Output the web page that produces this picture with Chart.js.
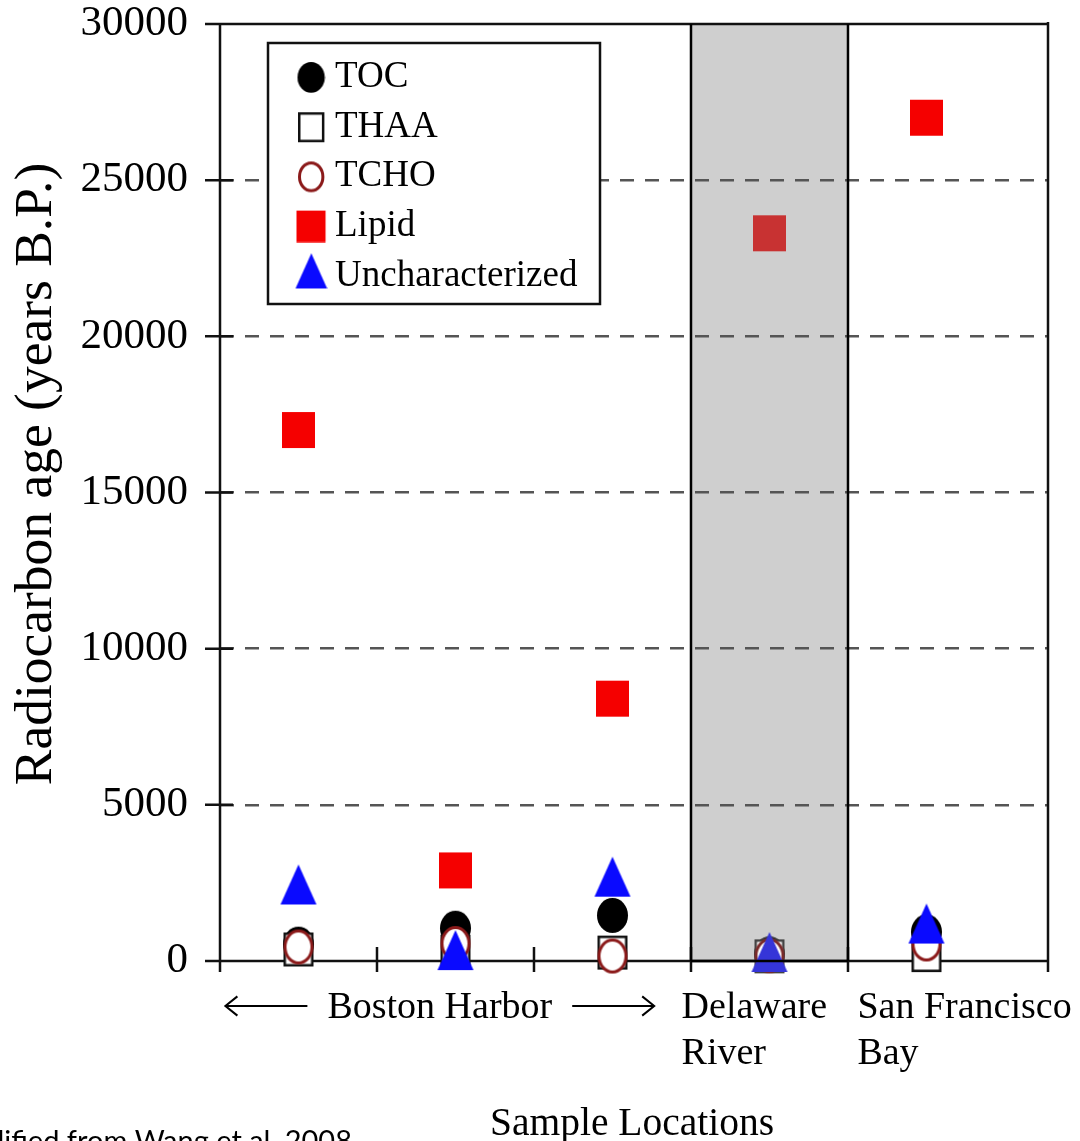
<!DOCTYPE html>
<html><head><meta charset="utf-8">
<script src="https://cdn.jsdelivr.net/npm/chart.js@4/dist/chart.umd.min.js"></script>
<style>html,body{margin:0;padding:0;background:#fff;}</style>
</head><body>
<canvas id="c" width="1080" height="1141"></canvas>
<script>
// ---------- data ----------
const locationIndex = [1, 2, 3, 4, 5];
const locationNames = ['Boston Harbor A', 'Boston Harbor B', 'Boston Harbor C', 'Delaware River', 'San Francisco Bay'];
const seriesNames = ['TOC', 'THAA', 'TCHO', 'Lipid', 'Uncharacterized'];
const tocAge   = [540, 1050, 1460, 230, 930];
const thaaAge  = [370, 300, 270, 150, 190];
const tchoAge  = [450, 560, 160, 170, 545];
const lipidAge = [17000, 2900, 8400, 23300, 27000];
const unchAge  = [2450, 350, 2700, 290, 1200];
const yTickValues = [0, 5000, 10000, 15000, 20000, 25000, 30000];
const regionLabels = [['Boston Harbor'], ['Delaware', 'River'], ['San Francisco', 'Bay']];
const yTitle = 'Radiocarbon age (years B.P.)';
const xTitle = 'Sample Locations';
const footnote = 'Modified from Wang et al. 2008';

// ---------- marker images ----------
function marker(kind, w, h, fill, stroke, lw) {
  lw = lw || 0;
  const pad = Math.ceil(lw) + 1;
  const c = document.createElement('canvas');
  c.width = w + 2 * pad; c.height = h + 2 * pad;
  const g = c.getContext('2d');
  g.translate(pad, pad);
  g.beginPath();
  if (kind === 'circle') g.ellipse(w / 2, h / 2, w / 2 - lw / 2, h / 2 - lw / 2, 0, 0, Math.PI * 2);
  else if (kind === 'rect') g.rect(lw / 2, lw / 2, w - lw, h - lw);
  else { g.moveTo(w / 2, 0); g.lineTo(w, h); g.lineTo(0, h); g.closePath(); }
  if (fill) { g.fillStyle = fill; g.fill(); }
  if (stroke) { g.lineWidth = lw; g.strokeStyle = stroke; g.stroke(); }
  return c;
}
const SERIF = '"Liberation Serif", "Times New Roman", serif';
const styles = {
  TOC:   (d, s) => marker('circle', 31 * s, 35 * s, d ? '#333' : '#000'),
  THAA:  (d, s) => marker('rect', 30 * s, 34 * s, '#fff', d ? '#444' : '#111', 2.5),
  TCHO:  (d, s) => marker('circle', 30 * s, 35 * s, '#fff', d ? '#7a2a2a' : '#8b1a1a', 3),
  Lipid: (d, s) => marker('rect', 33 * s, 36 * s, d ? '#c83232' : '#f50000'),
  Uncharacterized: (d, s) => marker('tri', 36 * s, 40 * s, d ? '#3535d8' : '#0a0aff')
};
const DELAWARE = 3; // index of shaded location
const valuesBySeries = [tocAge, thaaAge, tchoAge, lipidAge, unchAge];

const datasets = seriesNames.map((name, si) => ({
  label: name,
  data: locationIndex.map((x, i) => ({ x, y: valuesBySeries[si][i] })),
  pointStyle: locationIndex.map((x, i) => styles[name](i === DELAWARE, 1)),
  pointRadius: 16,
  order: seriesNames.length - si,
  clip: false,
  showLine: false
}));

// ---------- custom drawing plugin ----------
const overlay = {
  id: 'overlay',
  beforeDraw(chart) {
    const { ctx, chartArea: a, scales: { x } } = chart;
    ctx.save();
    ctx.fillStyle = '#fff';
    ctx.fillRect(0, 0, chart.width, chart.height);
    const x0 = x.getPixelForValue(3.5), x1 = x.getPixelForValue(4.5);
    ctx.fillStyle = '#cfcfcf';
    ctx.fillRect(x0, a.top, x1 - x0, a.bottom - a.top);
    ctx.restore();
  },
  beforeDatasetsDraw(chart) {
    const { ctx, chartArea: a, scales: { x, y } } = chart;
    ctx.save();
    ctx.strokeStyle = '#111';
    ctx.lineWidth = 2.5;
    ctx.beginPath();
    ctx.moveTo(a.left - 15, a.top); ctx.lineTo(a.right, a.top);
    ctx.moveTo(a.left - 15, a.bottom); ctx.lineTo(a.right, a.bottom);
    ctx.moveTo(a.left, a.top); ctx.lineTo(a.left, a.bottom + 11);
    ctx.moveTo(a.right, a.top - 2); ctx.lineTo(a.right, a.bottom + 11);
    yTickValues.forEach(v => {
      const py = y.getPixelForValue(v);
      ctx.moveTo(a.left - 15, py); ctx.lineTo(a.left + 13, py);
    });
    [1.5, 2.5, 3.5, 4.5].forEach(v => {
      const px = x.getPixelForValue(v);
      ctx.moveTo(px, a.bottom - 14); ctx.lineTo(px, a.bottom + 11);
    });
    ctx.stroke();
    ctx.restore();
  },
  afterDatasetsDraw(chart) {
    const { ctx, chartArea: a, scales: { x, y } } = chart;
    ctx.save();
    const x0 = x.getPixelForValue(3.5), x1 = x.getPixelForValue(4.5);
    ctx.strokeStyle = '#000'; ctx.lineWidth = 2.5;
    ctx.beginPath();
    ctx.moveTo(x0, a.top); ctx.lineTo(x0, a.bottom);
    ctx.moveTo(x1, a.top); ctx.lineTo(x1, a.bottom);
    ctx.moveTo(x0, a.bottom); ctx.lineTo(x1, a.bottom);
    ctx.stroke();

    // legend
    const L = { left: 268, top: 43, right: 600, bottom: 304, mx: 311, tx: 335, base0: 87, step: 49.7 };
    ctx.fillStyle = '#fff';
    ctx.fillRect(L.left, L.top, L.right - L.left, L.bottom - L.top);
    ctx.strokeStyle = '#111'; ctx.lineWidth = 2.5;
    ctx.strokeRect(L.left, L.top, L.right - L.left, L.bottom - L.top);
    ctx.font = '37px ' + SERIF;
    ctx.fillStyle = '#000';
    ctx.textAlign = 'left'; ctx.textBaseline = 'alphabetic';
    seriesNames.forEach((name, i) => {
      const base = L.base0 + i * L.step;
      const img = styles[name](false, 0.88);
      const cy = name === 'Uncharacterized' ? base - 15 : base - 10;
      ctx.drawImage(img, L.mx - img.width / 2, cy - img.height / 2);
      ctx.fillText(name, L.tx, base);
    });

    // x region labels
    ctx.font = '38px ' + SERIF;
    ctx.fillStyle = '#000';
    const base1 = 1018, base2 = 1064;
    const bhCenter = x.getPixelForValue(1.9);
    const bhW = ctx.measureText(regionLabels[0][0]).width;
    ctx.textAlign = 'center';
    ctx.fillText(regionLabels[0][0], bhCenter, base1);
    const ay = 1006, gap = 20, alen = 82, head = 12;
    const lx = bhCenter - bhW / 2 - gap, rx = bhCenter + bhW / 2 + gap;
    ctx.lineWidth = 2; ctx.strokeStyle = '#000';
    ctx.beginPath();
    ctx.moveTo(lx, ay); ctx.lineTo(lx - alen, ay);
    ctx.moveTo(lx - alen + head, ay - head * 0.8); ctx.lineTo(lx - alen, ay); ctx.lineTo(lx - alen + head, ay + head * 0.8);
    ctx.moveTo(rx, ay); ctx.lineTo(rx + alen, ay);
    ctx.moveTo(rx + alen - head, ay - head * 0.8); ctx.lineTo(rx + alen, ay); ctx.lineTo(rx + alen - head, ay + head * 0.8);
    ctx.stroke();
    ctx.textAlign = 'left';
    const delX = x.getPixelForValue(3.44), sfX = x.getPixelForValue(4.56);
    ctx.fillText(regionLabels[1][0], delX, base1);
    ctx.fillText(regionLabels[1][1], delX, base2);
    ctx.fillText(regionLabels[2][0], sfX, base1);
    ctx.fillText(regionLabels[2][1], sfX, base2);

    // axis titles
    ctx.font = '39.5px ' + SERIF;
    ctx.textAlign = 'center';
    ctx.fillText(xTitle, (a.left + a.right) / 2 - 2, 1135);
    ctx.save();
    ctx.font = '53.5px ' + SERIF;
    ctx.translate(51, 474);
    ctx.rotate(-Math.PI / 2);
    ctx.fillText(yTitle, 0, 0);
    ctx.restore();

    // footnote (cut at page edge)
    ctx.font = '29px Lato, "Open Sans", sans-serif';
    ctx.textAlign = 'right';
    ctx.fillStyle = '#000';
    ctx.fillText(footnote, 352, 1151);
    ctx.restore();
  }
};

new Chart(document.getElementById('c'), {
  type: 'scatter',
  data: { datasets },
  options: {
    responsive: false,
    animation: false,
    events: [],
    layout: { padding: { top: 24, right: 32, left: 0, bottom: 0 } },
    plugins: { legend: { display: false }, tooltip: { enabled: false } },
    scales: {
      x: {
        type: 'linear', min: 0.5, max: 5.774,
        ticks: { display: false },
        grid: { display: false },
        border: { display: false },
        afterFit: s => { s.height = 180; s.paddingLeft = 0; s.paddingRight = 0; }
      },
      y: {
        type: 'linear', min: 0, max: 30000,
        afterBuildTicks: s => { s.ticks = yTickValues.map(v => ({ value: v })); },
        ticks: {
          padding: 32, color: '#000',
          font: { family: SERIF, size: 43 },
          callback: v => String(v)
        },
        grid: {
          drawTicks: false,
          lineWidth: 2.5,
          color: c => (c.tick && (c.tick.value === 0 || c.tick.value === 30000)) ? 'rgba(0,0,0,0)' : '#555'
        },
        border: { display: false, dash: [14, 11] },
        afterFit: s => { s.width = 220; s.paddingTop = 0; s.paddingBottom = 0; }
      }
    }
  },
  plugins: [overlay]
});
</script>
</body></html>
